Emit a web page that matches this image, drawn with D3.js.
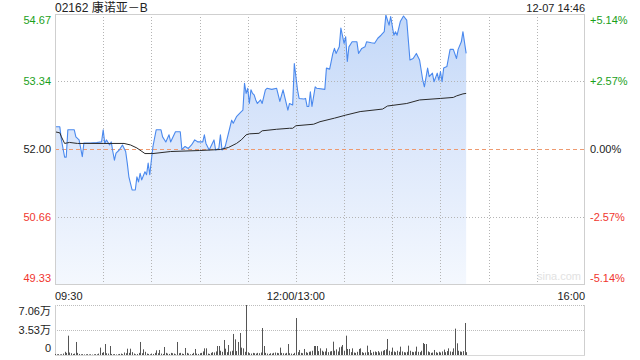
<!DOCTYPE html>
<html><head><meta charset="utf-8">
<script src="https://cdn.jsdelivr.net/npm/d3@7"></script>
<style>
html,body{margin:0;padding:0;background:#fff;}
svg{display:block;font-family:"Liberation Sans",Arial,"Noto Sans CJK SC",sans-serif;}
</style></head>
<body><svg id="c" width="640" height="360"></svg>
<script>
// ---- data ----
const title = "02162 康诺亚－B";
const stamp = "12-07 14:46";
const prevClose = 52.00;
const priceTicks = [54.67, 53.34, 52.00, 50.66, 49.33];
const pctLabels = ["+5.14%", "+2.57%", "0.00%", "-2.57%", "-5.14%"];
const timeTicks = [0, 150, 330];
const timeLabels = ["09:30", "12:00/13:00", "16:00"];
const volTicks = [7.06, 3.53, 0];
const volLabels = ["7.06万", "3.53万", "0"];
// price: minute index (0 = 09:30, 150 = 13:00) and price
const priceMin = [0,3,4,6,7,8,12,13,15,17,18,22,26,29,30,31,32,34,35,36,37,38,40,42,44,45,46,48,50,51,52,53,54,56,57,58,59,60,61,63,66,67,69,71,72,75,78,79,81,83,85,87,89,92,93,94,96,99,100,102,103,104,106,107,109,110,111,113,116,117,118,119,120,121,122,123,124,125,126,128,129,131,132,135,138,140,142,145,146,148,149,151,152,155,156,157,158,159,160,162,163,168,169,171,173,174,175,177,178,180,181,182,183,185,188,189,191,193,194,197,199,201,203,205,206,208,209,211,212,213,215,217,219,221,223,225,227,229,230,232,233,235,236,238,239,240,241,242,244,246,248,250,251,253,254,256];
const price = [52.44,52.44,52.18,51.84,51.84,52.38,52.38,52.24,52.18,51.85,52.12,52.12,52.13,52.14,52.38,52.11,52.18,52.08,52.14,51.95,51.78,51.92,51.98,52.08,51.95,51.72,51.45,51.19,51.19,51.45,51.35,51.52,51.39,51.55,51.49,51.72,51.49,51.78,52.05,52.38,52.38,52.24,52.14,52.28,52.14,52.34,52.34,51.99,52.05,52.01,52.08,52.18,52.14,52.14,52.28,52.11,51.98,52.18,51.98,52.01,52.28,51.98,52.05,52.18,52.44,52.57,52.51,52.64,52.74,52.77,53.30,53.10,53.20,52.90,53.17,53.10,53.07,52.97,52.90,52.97,52.90,53.17,53.20,53.18,53.20,52.94,53.17,52.77,52.90,52.87,53.69,53.17,53.00,52.99,53.00,52.84,52.84,53.13,52.84,53.23,53.20,53.18,53.60,53.58,53.89,53.99,53.89,54.02,54.39,54.09,54.22,53.73,54.02,54.12,54.12,53.89,53.99,54.02,54.12,54.10,54.09,54.19,54.25,54.32,54.65,54.45,54.62,54.25,54.32,54.25,54.52,54.63,54.55,53.76,53.79,53.89,53.76,53.36,53.23,53.60,53.43,53.50,53.33,53.50,53.36,53.53,53.33,53.60,53.63,53.97,53.97,53.79,53.97,54.12,54.32,53.89];
// average price line
const avgMin = [0,3,4,6,9,14,30,43,47,51,56,61,72,90,103,108,113,116,119,121,127,129,138,146,148,150,161,165,174,181,190,204,207,219,227,240,248,250,254,256];
const avgPrice = [52.34,52.32,52.24,52.11,52.13,52.11,52.11,52.11,52.08,52.02,51.91,51.91,51.95,51.97,51.99,52.03,52.11,52.18,52.28,52.30,52.31,52.36,52.39,52.41,52.41,52.46,52.49,52.54,52.61,52.67,52.74,52.79,52.85,52.90,52.97,53.00,53.02,53.05,53.09,53.10];
// volume per minute (万), index 0..256
const volume = [
0.15,0.10,0.12,0.08,0.10,0.20,0.45,0.30,2.73,0.35,
0.25,0.15,0.20,1.84,0.30,0.15,0.10,0.12,0.08,0.10,
0.12,0.08,0.10,0.06,0.10,0.12,0.10,0.20,1.04,0.30,
0.40,1.55,0.25,0.20,1.27,0.15,0.10,0.12,0.08,0.10,
0.15,0.20,0.12,0.35,0.25,0.89,0.30,0.89,0.40,0.20,
0.10,0.15,0.30,1.84,0.25,0.80,0.45,0.20,0.15,0.10,
0.20,0.15,0.30,0.66,0.25,0.71,0.20,0.15,1.13,0.30,
0.20,0.15,0.30,0.25,0.20,0.10,1.84,0.25,0.30,0.20,
0.15,0.99,0.30,0.20,0.10,0.15,0.30,0.85,0.20,0.15,
0.25,0.30,0.50,0.94,0.94,0.20,0.15,0.30,0.40,0.35,
0.50,1.27,1.27,0.60,0.45,2.12,0.89,0.40,1.41,0.50,
0.60,2.97,2.21,0.55,1.84,3.11,1.04,0.94,0.45,7.06,
0.38,0.25,0.20,0.30,0.25,0.20,0.30,0.25,0.35,3.81,
1.27,0.30,0.20,0.15,0.25,0.20,0.30,0.35,0.30,0.25,
1.04,0.30,0.25,0.20,0.30,1.55,0.25,0.20,0.15,0.30,
5.22,0.40,0.71,0.30,0.25,0.85,0.40,0.30,0.45,0.50,
0.60,1.27,1.27,1.27,0.55,0.94,0.60,0.45,0.50,0.94,
0.40,0.50,0.55,1.88,0.60,0.80,0.50,1.08,1.18,1.41,
0.60,2.73,0.85,0.85,0.40,0.94,0.35,0.30,0.45,0.85,
0.94,0.40,0.30,0.35,1.32,0.40,0.71,0.30,0.45,0.50,
0.40,0.55,0.35,0.50,0.60,0.70,0.80,2.26,0.60,0.45,
1.04,0.50,0.40,0.60,0.45,1.18,0.50,0.40,0.35,0.45,
1.32,0.60,0.45,0.40,0.50,1.18,0.45,0.40,0.60,1.69,
1.55,1.55,0.50,0.40,0.30,0.35,0.71,0.40,0.30,0.45,
0.35,0.50,0.76,0.40,0.55,0.94,0.50,0.45,0.94,3.72,
1.65,0.60,0.50,0.45,0.55,4.52,0.40];

// ---- layout ----
const L = 55, R = 585, T = 14, B = 284;
const VT = 305, VB = 355;
const svg = d3.select("#c");
const x = d3.scaleLinear().domain([0, 330]).range([L, R]);
const y = d3.scaleLinear().domain([49.33, 54.67]).range([B, T]);
const yv = d3.scaleLinear().domain([0, 7.06]).range([VB, VT]);

const green = "#1aa01a", red = "#f0362e";
function tickColor(v){ return v > prevClose ? green : (v < prevClose ? red : "#222"); }

// gradient
const defs = svg.append("defs");
const g = defs.append("linearGradient").attr("id","fillg")
  .attr("gradientUnits","userSpaceOnUse").attr("x1",0).attr("x2",0).attr("y1",T).attr("y2",B);
g.append("stop").attr("offset","0").attr("stop-color","#c3d8f8");
g.append("stop").attr("offset","0.5").attr("stop-color","#dde8fb");
g.append("stop").attr("offset","1").attr("stop-color","#f4f8fe");

// area
const area = d3.area().x((d,i) => x(priceMin[i])).y0(B).y1(d => y(d));
svg.append("path").datum(price).attr("d", area).attr("fill", "url(#fillg)");

// vertical grid (every 30 minutes), drawn over the fill
const vgrid = d3.range(30, 330, 30);
vgrid.forEach(d => {
  const xx = Math.round(x(d)) + 0.5;
  svg.append("line").attr("x1", xx).attr("x2", xx).attr("y1", T).attr("y2", B)
    .style("stroke", "#b4b4b4").style("stroke-width", "1px").style("stroke-dasharray", "1 2");
});

// horizontal grid
[53.34, 50.66].forEach(d => {
  const yy = Math.round(y(d)) + 0.5;
  svg.append("line").attr("x1", L).attr("x2", R).attr("y1", yy).attr("y2", yy)
    .style("stroke", "#b4b4b4").style("stroke-width", "1px").style("stroke-dasharray", "1 2");
});

// prev close line
svg.append("line").attr("x1", L).attr("x2", R)
  .attr("y1", Math.round(y(prevClose)) + 0.5).attr("y2", Math.round(y(prevClose)) + 0.5)
  .attr("stroke", "#ee9a70").attr("stroke-dasharray", "4,3");

const line = d3.line().x((d,i) => x(priceMin[i])).y(d => y(d));
svg.append("path").datum(price).attr("d", line).attr("fill", "none")
  .attr("stroke", "#4a89ee").attr("stroke-width", 1.1).attr("stroke-linejoin","round");
const aline = d3.line().x((d,i) => x(avgMin[i])).y(d => y(d));
svg.append("path").datum(avgPrice).attr("d", aline).attr("fill", "none")
  .attr("stroke", "#2a2a2a").attr("stroke-width", 1);

// frame
svg.append("rect").attr("x", L + 0.5).attr("y", T + 0.5).attr("width", R - L - 1).attr("height", B - T)
  .attr("fill", "none").attr("stroke", "#cfcfcf");

// watermark
svg.append("text").attr("x", R - 4).attr("y", B - 4).attr("text-anchor", "end")
  .attr("font-size", 11).attr("fill", "#e2e2e2").text("sina.com");

// y labels
priceTicks.forEach((v, i) => {
  let yy = y(v) + 4;
  if (i === 0) yy = y(v) + 10;
  if (i === priceTicks.length - 1) yy = y(v) - 2;
  svg.append("text").attr("x", L - 4).attr("y", yy).attr("text-anchor", "end")
    .attr("font-size", 11).attr("fill", tickColor(v)).text(v.toFixed(2));
  svg.append("text").attr("x", R + 5).attr("y", yy).attr("text-anchor", "start")
    .attr("font-size", 11).attr("fill", tickColor(v)).text(pctLabels[i]);
});

// title
svg.append("text").attr("x", L).attr("y", 12).attr("font-size", 12).attr("fill", "#222")
  .text(title);
svg.append("text").attr("x", R).attr("y", 12).attr("font-size", 11).attr("fill", "#222")
  .attr("text-anchor", "end").text(stamp);

// time labels
timeTicks.forEach((t, i) => {
  svg.append("text").attr("x", x(t)).attr("y", 300).attr("font-size", 11).attr("fill", "#222")
    .attr("text-anchor", i === 0 ? "start" : (i === timeTicks.length - 1 ? "end" : "middle"))
    .text(timeLabels[i]);
});

// volume frame & grid
svg.append("line").attr("x1", L).attr("x2", R).attr("y1", VT + 0.5).attr("y2", VT + 0.5)
  .attr("stroke", "#bdbdbd").attr("stroke-dasharray", "1,1");
svg.append("line").attr("x1", L).attr("x2", R).attr("y1", Math.round(yv(3.53)) + 0.5).attr("y2", Math.round(yv(3.53)) + 0.5)
  .attr("stroke", "#bdbdbd").attr("stroke-dasharray", "1,1");
svg.append("line").attr("x1", L + 0.5).attr("x2", L + 0.5).attr("y1", VT).attr("y2", VB)
  .attr("stroke", "#cfcfcf");
svg.append("line").attr("x1", R - 0.5).attr("x2", R - 0.5).attr("y1", VT).attr("y2", VB)
  .attr("stroke", "#cfcfcf");
svg.append("line").attr("x1", L).attr("x2", R).attr("y1", VB + 0.5).attr("y2", VB + 0.5)
  .attr("stroke", "#d8d8d8");

// volume bars
svg.append("g").selectAll("line").data(volume).join("line")
  .attr("x1", (d,i) => Math.round(x(i)) + 0.5).attr("x2", (d,i) => Math.round(x(i)) + 0.5)
  .attr("y1", yv(0)).attr("y2", d => yv(d))
  .attr("stroke", "#555").attr("stroke-width", 1);

// volume labels
volTicks.forEach((v, i) => {
  let yy = yv(v) + 4;
  if (i === 0) yy = yv(v) + 10;
  if (i === volTicks.length - 1) yy = yv(v) - 3;
  svg.append("text").attr("x", L - 4).attr("y", yy).attr("text-anchor", "end")
    .attr("font-size", 11).attr("fill", "#222").text(volLabels[i]);
});
</script>
</body></html>
